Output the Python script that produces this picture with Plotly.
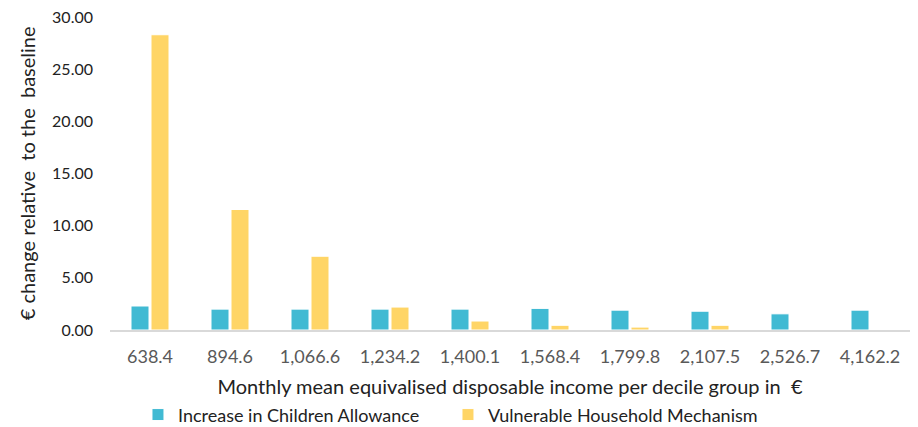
import plotly.graph_objects as go

# Decile groups: monthly mean equivalised disposable income (€)
deciles = ["638.4", "894.6", "1,066.6", "1,234.2", "1,400.1",
           "1,568.4", "1,799.8", "2,107.5", "2,526.7", "4,162.2"]

# € change relative to the baseline
children_allowance = [2.30, 2.00, 2.00, 2.00, 2.00, 2.07, 1.90, 1.80, 1.55, 1.90]
vulnerable_household = [28.30, 11.55, 7.07, 2.20, 0.86, 0.45, 0.28, 0.45, 0.00, 0.00]

y_ticks = [0, 5, 10, 15, 20, 25, 30]

fig = go.Figure()
fig.add_trace(go.Bar(
    x=deciles, y=children_allowance, name="Increase in Children Allowance",
    marker=dict(color="#41BAD3", line=dict(color="white", width=1)),
))
fig.add_trace(go.Bar(
    x=deciles, y=vulnerable_household, name="Vulnerable Household Mechanism",
    marker=dict(color="#FFD566", line=dict(color="white", width=1)),
))

fig.update_layout(
    width=918, height=427,
    margin=dict(l=110, r=8, t=17, b=97, autoexpand=False),
    paper_bgcolor="white", plot_bgcolor="white",
    barmode="group", bargap=0.5, bargroupgap=0.1,
    font=dict(family="Lato, Open Sans, sans-serif", color="#222222"),
    showlegend=True,
    legend=dict(
        orientation="h", xref="container", yref="paper",
        x=0.488, xanchor="center", y=-0.212, yanchor="top",
        font=dict(size=18, color="#222222"),
        itemwidth=30, traceorder="normal",
        entrywidth=265, entrywidthmode="pixels",
    ),
)

# Vertical axis title placed beside the tick labels
fig.add_annotation(
    text="€ change relative  to the  baseline",
    xref="paper", yref="paper", x=-0.104, y=0.5,
    xanchor="center", yanchor="middle", textangle=-90,
    showarrow=False, font=dict(size=20, color="#222222"),
)

fig.update_xaxes(
    showline=True, linecolor="#d9d9d9", linewidth=2,
    showgrid=False, ticks="", ticklabelstandoff=9,
    tickfont=dict(size=18, color="#595959"),
    title=dict(text="Monthly mean equivalised disposable income per decile group in  €",
               font=dict(size=20, color="#222222"), standoff=14),
)
fig.update_yaxes(
    automargin=False,
    range=[0, 30], tickvals=y_ticks, tickformat=".2f",
    showline=False, showgrid=False, zeroline=False, ticks="",
    ticklabelstandoff=16,
    tickfont=dict(size=16, color="#222222"),
)

fig.write_html("out.html")
